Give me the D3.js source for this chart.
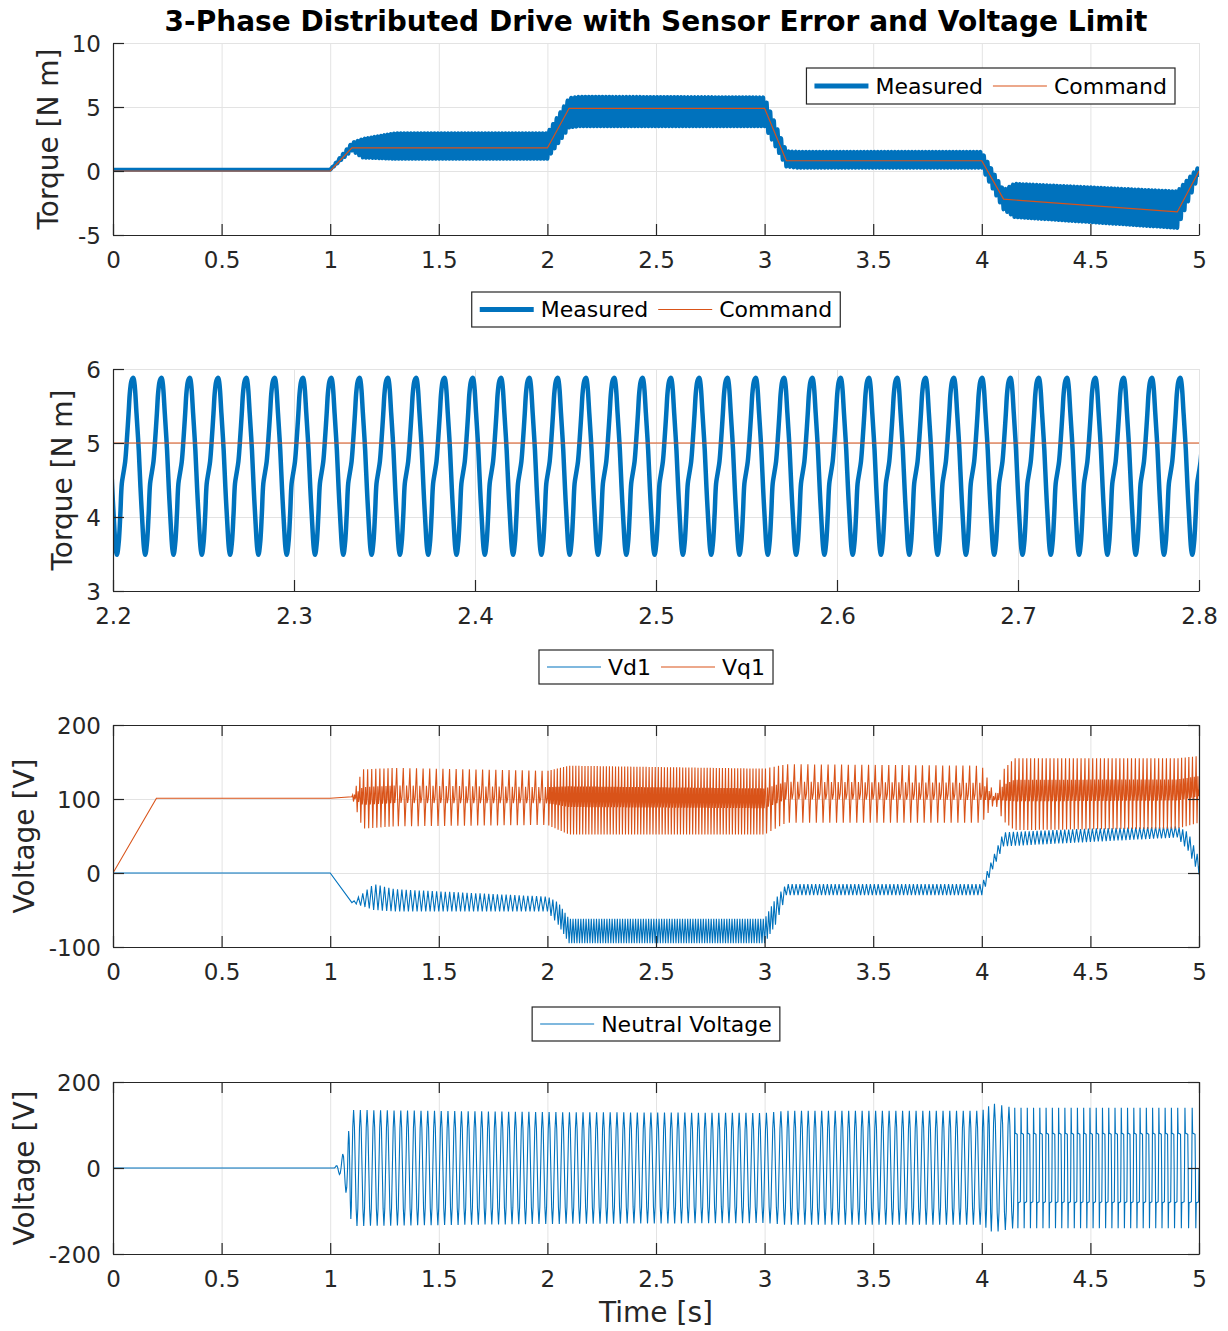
<!DOCTYPE html>
<html>
<head>
<meta charset="utf-8">
<script src="https://cdnjs.cloudflare.com/ajax/libs/d3/7.8.5/d3.min.js"></script>
<style>
  body { margin: 0; background: #fff; }
  svg { display: block; font-family: "DejaVu Sans", sans-serif; }
</style>
</head>
<body>
<svg id="chart" width="1228" height="1331"></svg>
<script>
// ---------- data ----------

// panel 1: torque command [N m]
const cmdTime   = [0, 1.0, 1.1, 2.0, 2.1, 3.0, 3.1, 4.0, 4.1, 4.9, 5.0];
const cmdTorque = [0, 0, 1.8, 1.8, 4.9, 4.9, 0.8, 0.8, -2.2, -3.2, 0];

// panel 1: measured torque, ripple envelope and ripple period per interval
const tqTime   = [0, 1.0, 1.1, 1.15, 1.3, 2.0, 2.1, 2.15, 3.0, 3.1, 3.15, 4.0, 4.1, 4.15, 4.9, 5.0];
const tqLow    = [0.1, 0.1, 1.6, 1.05, 0.95, 0.95, 3.4, 3.5, 3.5, 0.35, 0.25, 0.25, -3.0, -3.6, -4.45, -0.3];
const tqHigh   = [0.1, 0.1, 2.2, 2.5, 2.95, 2.95, 5.7, 5.8, 5.75, 1.55, 1.5, 1.5, -1.5, -1.0, -1.6, 0.35];
const tqPeriod = [0, 0.0156, 0.0156, 0.0156, 0.0156, 0.0156, 0.0156, 0.0156, 0.0156, 0.0156, 0.0156, 0.0156, 0.0156, 0.0156, 0.0156];

const rippleShapePhase  = [0, 0.06, 0.12, 0.17, 0.23, 0.29, 0.35, 0.41, 0.46, 0.52, 0.58, 0.62, 0.69, 0.77, 0.83, 0.9, 0.96, 1];
const rippleShapeTorque = [3.49, 3.65, 4.05, 4.45, 4.6, 4.75, 5.05, 5.4, 5.7, 5.85, 5.88, 5.8, 5.4, 4.9, 4.4, 3.9, 3.56, 3.49];

// panel 2: zoomed torque 2.2 .. 2.8 s
const zoomCommand     = 5;
const zoomFirstTrough = 2.2022;
const zoomPeriod      = 0.015635;

// panel 3: Vd1 envelope [V]
const vdTime   = [0, 1.0, 1.1, 1.2, 1.3, 2.0, 2.05, 2.1, 3.0, 3.05, 3.1, 4.0, 4.05, 4.1, 4.5, 4.9, 4.95, 5.0];
const vdLow    = [0, 0, -40, -50, -52, -52, -70, -95, -95, -70, -30, -30, 5, 36, 42, 48, 30, -2];
const vdHigh   = [0, 0, -40, -15, -22, -32, -40, -62, -62, -35, -15, -15, 20, 55, 60, 63, 55, 20];
const vdPeriod = [0, 0, 0.02, 0.02, 0.02, 0.015, 0.012, 0.012, 0.012, 0.015, 0.018, 0.018, 0.018, 0.018, 0.018, 0.018, 0.018];
const vdShapePhase = [0, 0.5, 1];
const vdShapeLevel = [0, 1, 0];

// panel 3: Vq1 envelope [V]
const vqTime   = [0, 0.2, 1.0, 1.1, 1.15, 1.3, 2.0, 2.1, 3.0, 3.1, 4.0, 4.06, 4.1, 4.15, 4.9, 5.0];
const vqLow    = [0, 101, 101, 103, 60, 63, 65, 52, 52, 68, 68, 95, 70, 58, 60, 68];
const vqHigh   = [0, 101, 101, 103, 140, 142, 138, 145, 141, 147, 145, 105, 140, 155, 155, 158];
const vqPeriod = [0, 0, 0, 0.015, 0.02, 0.031, 0.014, 0.014, 0.02, 0.031, 0.02, 0.018, 0.018, 0.018, 0.018];
const vqShapePhase = [0, 0.2, 0.45, 0.7, 0.85, 1];
const vqShapeLevel = [0.5, 1, 0, 0.7, 0.4, 0.5];

// panel 4: neutral voltage envelope [V]
const nvTime   = [0, 1.02, 1.05, 1.08, 1.1, 2.0, 3.0, 3.1, 4.0, 4.05, 4.15, 4.9, 5.0];
const nvLow    = [0, 0, -20, -70, -135, -130, -128, -132, -132, -150, -140, -140, -140];
const nvHigh   = [0, 0, 20, 70, 135, 130, 128, 133, 133, 150, 140, 140, 140];
const nvPeriod = [0, 0.025, 0.025, 0.025, 0.031, 0.031, 0.031, 0.031, 0.031, 0.031, 0.029, 0.029];
const nvShapeOf = [0, 0, 0, 0, 0, 0, 0, 0, 0, 0, 1, 1];
const nvShapePhase = [0, 0.125, 0.25, 0.375, 0.5, 0.625, 0.75, 0.875, 1];
const nvShapeLevel = [0.5, 0.85, 1, 0.85, 0.5, 0.15, 0, 0.15, 0.5];
const nvStepShapePhase = [0, 0.06, 0.12, 0.45, 0.5, 0.56, 0.62, 0.95, 1];
const nvStepShapeLevel = [0.5, 1, 0.79, 0.78, 0.5, 0, 0.21, 0.22, 0.5];

// ticks
const xTicksFull = [0, 0.5, 1, 1.5, 2, 2.5, 3, 3.5, 4, 4.5, 5];
const xTicksZoom = [2.2, 2.3, 2.4, 2.5, 2.6, 2.7, 2.8];
const yTicksTorque = [-5, 0, 5, 10];
const yTicksZoom = [3, 4, 5, 6];
const yTicksDq = [-100, 0, 100, 200];
const yTicksNeutral = [-200, 0, 200];

// ---------- drawing ----------
const blue = '#0072BD';
const orange = '#D95319';
const textColor = '#262626';
const gridColor = '#e3e3e3';
const plotLeft = 113, plotRight = 1199;
const svg = d3.select('#chart');

// build a rippled series from an envelope: each interval repeats the cycle shape
function rippleSeries(times, lows, highs, periods, shapes, shapeOf) {
  const pts = [];
  for (let i = 0; i < times.length - 1; i++) {
    const t0 = times[i], t1 = times[i + 1];
    const lo = d3.scaleLinear().domain([t0, t1]).range([lows[i], lows[i + 1]]);
    const hi = d3.scaleLinear().domain([t0, t1]).range([highs[i], highs[i + 1]]);
    const p = periods[i];
    if (!p) {
      pts.push([t0, (lows[i] + highs[i]) / 2]);
      continue;
    }
    const sh = shapes[shapeOf ? shapeOf[i] : 0];
    const n = Math.max(1, Math.round((t1 - t0) / p));
    const step = (t1 - t0) / n;
    for (let k = 0; k < n; k++) {
      sh.phase.forEach((ph, j) => {
        if (k > 0 && j === 0) return;
        const t = t0 + (k + ph) * step;
        pts.push([t, lo(t) + sh.level[j] * (hi(t) - lo(t))]);
      });
    }
  }
  const last = times.length - 1;
  pts.push([times[last], (lows[last] + highs[last]) / 2]);
  return pts;
}

function panel(o) {
  const x = d3.scaleLinear().domain(o.xDomain).range([plotLeft, plotRight]);
  const y = d3.scaleLinear().domain(o.yDomain).range([o.bottom, o.top]);
  const h = o.bottom - o.top;
  const w = plotRight - plotLeft;
  const g = svg.append('g');

  // grid
  g.append('g')
    .attr('transform', `translate(0,${o.bottom})`)
    .call(d3.axisBottom(x).tickValues(o.xTicks).tickSize(-h).tickFormat(''))
    .call(s => { s.select('.domain').remove(); s.selectAll('line').attr('stroke', gridColor); });
  g.append('g')
    .attr('transform', `translate(${plotLeft},0)`)
    .call(d3.axisLeft(y).tickValues(o.yTicks).tickSize(-w).tickFormat(''))
    .call(s => { s.select('.domain').remove(); s.selectAll('line').attr('stroke', gridColor); });

  svg.append('clipPath').attr('id', 'clip' + o.id)
    .append('rect').attr('x', plotLeft).attr('y', o.top).attr('width', w).attr('height', h);
  const plot = g.append('g').attr('clip-path', `url(#clip${o.id})`);
  const line = d3.line().x(d => x(d[0])).y(d => y(d[1]));

  function axes() {
    const ax = g.append('g');
    const style = s => {
      s.select('.domain').attr('stroke', textColor).attr('stroke-width', 1.2);
      s.selectAll('.tick line').attr('stroke', textColor).attr('stroke-width', 1.2);
      s.selectAll('text').attr('fill', textColor).style('font-size', '23px')
        .style('font-family', '"DejaVu Sans", sans-serif');
    };
    ax.append('g').attr('transform', `translate(0,${o.bottom})`)
      .call(d3.axisBottom(x).tickValues(o.xTicks).tickFormat(d => String(d))
        .tickSizeInner(-11).tickSizeOuter(0).tickPadding(17))
      .call(style);
    ax.append('g').attr('transform', `translate(${plotLeft},0)`)
      .call(d3.axisLeft(y).tickValues(o.yTicks).tickFormat(d => String(d))
        .tickSizeInner(-11).tickSizeOuter(0).tickPadding(12))
      .call(style)
      .call(s => s.selectAll('text').attr('dy', '0.36em'));
    if (o.box) {
      ax.append('g').attr('transform', `translate(0,${o.top})`)
        .call(d3.axisTop(x).tickValues(o.xTicks).tickFormat('').tickSizeInner(-11).tickSizeOuter(0))
        .call(style);
      ax.append('g').attr('transform', `translate(${plotRight},0)`)
        .call(d3.axisRight(y).tickValues(o.yTicks).tickFormat('').tickSizeInner(-11).tickSizeOuter(0))
        .call(style);
    }
    ax.append('text')
      .attr('transform', `translate(${o.labelX},${(o.top + o.bottom) / 2}) rotate(-90)`)
      .attr('text-anchor', 'middle')
      .attr('fill', textColor)
      .style('font-size', '28px')
      .text(o.ylabel);
  }
  return { x, y, plot, line, axes };
}

function legend(items, opt) {
  const g = svg.append('g');
  const box = g.append('rect');
  let cx = 8;
  const cy = opt.h / 2;
  items.forEach(it => {
    g.append('line').attr('x1', cx).attr('x2', cx + 54).attr('y1', cy).attr('y2', cy)
      .attr('stroke', it.color).attr('stroke-width', it.width);
    const t = g.append('text').attr('x', cx + 61).attr('y', cy).attr('dy', '0.35em')
      .attr('fill', '#000').style('font-size', '22px').text(it.label);
    cx += 61 + t.node().getComputedTextLength() + 10;
  });
  const bw = cx - 10 + 8;
  box.attr('width', bw).attr('height', opt.h).attr('fill', '#fff')
    .attr('stroke', textColor).attr('stroke-width', 1.2);
  const left = opt.right !== undefined ? opt.right - bw : opt.center - bw / 2;
  g.attr('transform', `translate(${left},${opt.top})`);
}

// title
svg.append('text')
  .attr('x', (plotLeft + plotRight) / 2).attr('y', 31)
  .attr('text-anchor', 'middle')
  .attr('fill', '#000')
  .style('font-size', '28px').style('font-weight', 'bold')
  .text('3-Phase Distributed Drive with Sensor Error and Voltage Limit');

// panel 1
const p1 = panel({ id: 1, top: 43, bottom: 235, xDomain: [0, 5], yDomain: [-5, 10],
  xTicks: xTicksFull, yTicks: yTicksTorque, box: false, ylabel: 'Torque [N m]', labelX: 58 });
const tqMin = d3.min(rippleShapeTorque), tqMax = d3.max(rippleShapeTorque);
const torqueShape = { phase: rippleShapePhase, level: rippleShapeTorque.map(v => (v - tqMin) / (tqMax - tqMin)) };
p1.plot.append('path')
  .datum(rippleSeries(tqTime, tqLow, tqHigh, tqPeriod, [torqueShape]))
  .attr('d', p1.line).attr('fill', 'none').attr('stroke', blue)
  .attr('stroke-width', 4).attr('stroke-linejoin', 'round');
p1.plot.append('path')
  .datum(cmdTime.map((t, i) => [t, cmdTorque[i]]))
  .attr('d', p1.line).attr('fill', 'none').attr('stroke', orange).attr('stroke-width', 1.2);
p1.axes();
legend([{ label: 'Measured', color: blue, width: 5 }, { label: 'Command', color: orange, width: 1.2 }],
  { right: 1175, top: 68, h: 36 });

// panel 2
const p2 = panel({ id: 2, top: 369, bottom: 591, xDomain: [2.2, 2.8], yDomain: [3, 6],
  xTicks: xTicksZoom, yTicks: yTicksZoom, box: false, ylabel: 'Torque [N m]', labelX: 72 });
const zoomPts = [];
for (let k = -1; k < 40; k++) {
  rippleShapePhase.forEach((ph, j) => {
    if (j === 0 && k > -1) return;
    zoomPts.push([zoomFirstTrough + (k + ph) * zoomPeriod, rippleShapeTorque[j]]);
  });
}
p2.plot.append('path').datum(zoomPts)
  .attr('d', p2.line.curve(d3.curveCatmullRom)).attr('fill', 'none').attr('stroke', blue)
  .attr('stroke-width', 4.5).attr('stroke-linejoin', 'round');
p2.line.curve(d3.curveLinear);
p2.plot.append('path').datum([[2.2, zoomCommand], [2.8, zoomCommand]])
  .attr('d', p2.line).attr('fill', 'none').attr('stroke', orange).attr('stroke-width', 1.2);
p2.axes();
legend([{ label: 'Measured', color: blue, width: 5 }, { label: 'Command', color: orange, width: 1.2 }],
  { center: 656, top: 292, h: 35 });

// panel 3
const p3 = panel({ id: 3, top: 725, bottom: 947, xDomain: [0, 5], yDomain: [-100, 200],
  xTicks: xTicksFull, yTicks: yTicksDq, box: true, ylabel: 'Voltage [V]', labelX: 34 });
p3.plot.append('path')
  .datum(rippleSeries(vdTime, vdLow, vdHigh, vdPeriod, [{ phase: vdShapePhase, level: vdShapeLevel }]))
  .attr('d', p3.line).attr('fill', 'none').attr('stroke', blue).attr('stroke-width', 1.1);
p3.plot.append('path')
  .datum(rippleSeries(vqTime, vqLow, vqHigh, vqPeriod, [{ phase: vqShapePhase, level: vqShapeLevel }]))
  .attr('d', p3.line).attr('fill', 'none').attr('stroke', orange).attr('stroke-width', 1.1);
p3.axes();
legend([{ label: 'Vd1', color: blue, width: 1.2 }, { label: 'Vq1', color: orange, width: 1.2 }],
  { center: 656, top: 650, h: 34 });

// panel 4
const p4 = panel({ id: 4, top: 1082, bottom: 1254, xDomain: [0, 5], yDomain: [-200, 200],
  xTicks: xTicksFull, yTicks: yTicksNeutral, box: true, ylabel: 'Voltage [V]', labelX: 34 });
p4.plot.append('path')
  .datum(rippleSeries(nvTime, nvLow, nvHigh, nvPeriod,
    [{ phase: nvShapePhase, level: nvShapeLevel }, { phase: nvStepShapePhase, level: nvStepShapeLevel }], nvShapeOf))
  .attr('d', p4.line).attr('fill', 'none').attr('stroke', blue).attr('stroke-width', 1.1);
p4.axes();
legend([{ label: 'Neutral Voltage', color: blue, width: 1.2 }], { center: 656, top: 1007, h: 34 });

svg.append('text')
  .attr('x', (plotLeft + plotRight) / 2).attr('y', 1322)
  .attr('text-anchor', 'middle').attr('fill', textColor)
  .style('font-size', '28px')
  .text('Time [s]');
</script>
</body>
</html>
